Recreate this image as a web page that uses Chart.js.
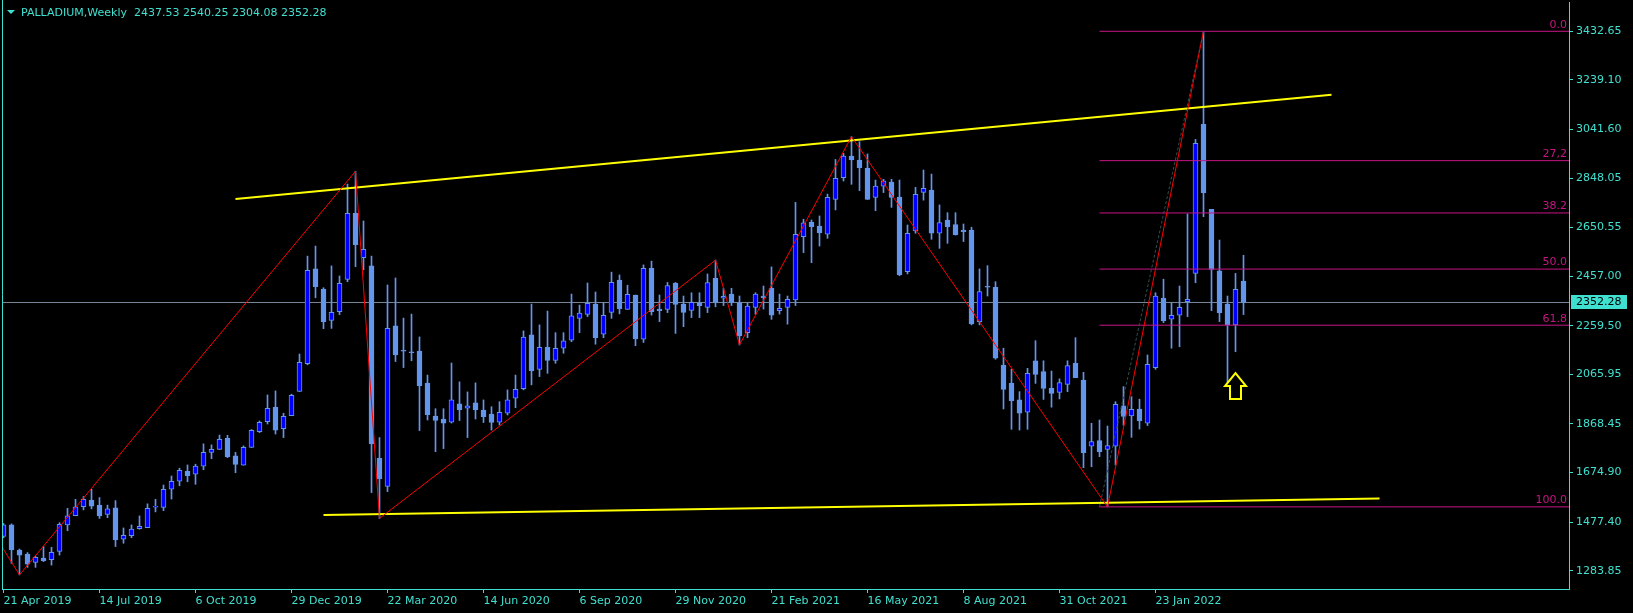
<!DOCTYPE html>
<html>
<head>
<meta charset="utf-8">
<script src="https://cdn.jsdelivr.net/npm/chart.js@4.4.1/dist/chart.umd.min.js"></script>
<style>
html, body { margin: 0; padding: 0; background: #000; }
canvas { display: block; }
</style>
</head>
<body>
<canvas id="chart" width="1633" height="613"></canvas>
<script>
// weekly candles, index 0 = week of 21 Apr 2019
var opens = [
    1420,1466,1366,1350,1317,1334,1328,1360,1466,1503,
    1539,1565,1545,1508,1534,1409,1423,1451,1455,1537,
    1536,1608,1640,1680,1668,1700,1755,1767,1811,1741,
    1704,1775,1838,1877,1935,1850,1901,1998,2108,2486,
    2406,2281,2316,2444,2707,2531,2498,1731,1619,2259,
    2162,2156,2159,2031,1900,1888,1875,1948,1931,1952,
    1924,1908,1875,1911,1971,2009,2223,2086,2174,2121,
    2170,2202,2289,2305,2346,2226,2313,2442,2325,2382,
    2206,2488,2326,2325,2430,2346,2321,2351,2333,2448,
    2369,2386,2351,2232,2333,2378,2410,2320,2333,2362,
    2614,2673,2657,2624,2763,2850,2936,2920,2887,2771,
    2816,2832,2772,2475,2637,2791,2800,2628,2681,2663,
    2641,2641,2276,2415,2413,2103,2030,1964,1915,2120,
    2077,2010,1994,2026,2110,2043,1780,1802,1767,1780,
    1941,1900,1928,1871,2093,2369,2286,2302,2355,2468,
    3062,2723,2478,2346,2263,2437.53
];
var highs = [
    1472,1470,1370,1356,1342,1380,1377,1475,1532,1568,
    1579,1608,1575,1545,1563,1454,1466,1502,1550,1568,
    1625,1661,1692,1705,1708,1789,1785,1824,1823,1755,
    1781,1846,1880,1984,2000,1911,1987,2147,2537,2577,
    2411,2498,2458,2824,2875,2677,2537,1814,2422,2450,
    2290,2306,2215,2063,1929,1929,2111,2036,1996,2032,
    1964,1937,1957,2004,2063,2239,2346,2263,2318,2232,
    2232,2386,2342,2430,2394,2352,2473,2462,2421,2382,
    2502,2517,2382,2432,2432,2378,2391,2391,2466,2521,
    2409,2409,2378,2349,2391,2418,2494,2386,2378,2751,
    2684,2681,2697,2784,2922,2946,3013,2993,2944,2840,
    2843,2843,2840,2661,2811,2880,2864,2741,2710,2710,
    2665,2652,2486,2499,2435,2170,2086,1997,2090,2200,
    2120,2079,2048,2120,2212,2074,1871,1884,1860,1957,
    2017,1977,1967,2143,2391,2445,2349,2418,2705,3002,
    3432.65,2723,2601,2378,2468,2540.25
];
var lows = [
    1415,1313,1267,1297,1297,1320,1306,1346,1443,1503,
    1526,1530,1492,1495,1380,1393,1415,1449,1455,1518,
    1523,1569,1622,1638,1628,1686,1730,1767,1734,1674,
    1704,1775,1834,1868,1828,1814,1901,1998,2104,2371,
    2248,2249,2304,2435,2495,2482,1595,1492,1599,2117,
    2093,2120,1842,1884,1758,1770,1872,1882,1814,1888,
    1874,1844,1864,1904,1933,2004,2024,2057,2070,2110,
    2150,2196,2232,2296,2186,2212,2289,2307,2325,2180,
    2193,2302,2276,2312,2229,2256,2292,2292,2312,2335,
    2340,2340,2183,2212,2306,2326,2285,2306,2266,2340,
    2551,2511,2577,2608,2721,2836,2823,2798,2763,2718,
    2790,2731,2459,2466,2628,2760,2604,2568,2588,2621,
    2595,2263,2263,2378,2126,1928,1847,1844,1847,2030,
    1966,1935,1968,1997,2053,1694,1698,1738,1538,1705,
    1863,1815,1848,1862,2086,2272,2170,2176,2296,2431,
    2694,2320,2276,2017,2156,2304.08
];
var closes = [
    1466,1366,1346,1310,1337,1324,1357,1468,1502,1538,
    1568,1541,1502,1530,1406,1425,1449,1460,1532,1540,
    1608,1640,1684,1662,1700,1755,1767,1807,1738,1707,
    1775,1843,1875,1931,1844,1899,1982,2114,2480,2415,
    2276,2313,2429,2707,2583,2564,1789,1649,2249,2143,
    2158,2152,2021,1905,1882,1871,1964,1925,1941,1925,
    1897,1874,1915,1964,2006,2214,2081,2174,2121,2170,
    2199,2299,2310,2349,2212,2301,2433,2328,2385,2207,
    2488,2316,2320,2420,2345,2313,2353,2340,2432,2353,
    2377,2353,2219,2338,2386,2371,2302,2329,2365,2624,
    2670,2654,2630,2771,2847,2936,2920,2889,2763,2816,
    2837,2771,2462,2628,2783,2807,2628,2671,2654,2621,
    2634,2267,2396,2413,2130,2006,1961,1911,2070,2066,
    2010,1990,2033,2101,2053,1754,1798,1758,1782,1946,
    1898,1927,1880,2106,2378,2280,2301,2333,2365,2986,
    2790,2484,2312,2263,2405,2352.28
];

var dateTicks = [0, 12, 24, 36, 48, 60, 72, 84, 96, 108, 120, 132, 144];
var dateLabels = ['21 Apr 2019', '14 Jul 2019', '6 Oct 2019', '29 Dec 2019', '22 Mar 2020', '14 Jun 2020',
    '6 Sep 2020', '29 Nov 2020', '21 Feb 2021', '16 May 2021', '8 Aug 2021', '31 Oct 2021', '23 Jan 2022'];
var priceTicks = [3432.65, 3239.10, 3041.60, 2848.05, 2650.55, 2457.00, 2259.50, 2065.95, 1868.45, 1674.90, 1477.40, 1283.85];

var zigzagX = [-1, 2, 44, 47, 89, 92, 106, 138, 150];
var zigzagY = [1420, 1267, 2875, 1492, 2521, 2183, 3013, 1538, 3432.65];
var upperTrendX = [29, 166];
var upperTrendY = [2764.5, 3180];
var lowerTrendX = [40, 172];
var lowerTrendY = [1505.6, 1571];

var fibLevels = [0, 27.2, 38.2, 50, 61.8, 100];
var fibLabels = ['0.0', '27,2', '38.2', '50.0', '61.8', '100.0'];
var fibX = [137, 150];
var fibY = [1538, 3432.65];
var arrowMark = [154, 2071];

var symbolName = 'PALLADIUM,Weekly';
var last = opens.length - 1;
var lastPrice = closes[last];

var axisColor = '#40e0d0';
var bullColor = '#0000ff';
var bearColor = '#6495ed';
var fibColor = '#c71585';
var fontFamily = 'DejaVu Sans';

// plot runs from x=2 to x=1569, 8px per week
var xMin = -0.1875;
var xMax = xMin + 1567 / 8;
var yMax = 3549.38;
var yMin = 1210.77;

function pts(xs, ys) {
    return xs.map(function(x, k) { return {x: x, y: ys[k]}; });
}

var bodies = opens.map(function(o, i) { return {x: i, y: [o, closes[i]]}; });
var wicks = lows.map(function(l, i) { return {x: i, y: [l, highs[i]]}; });
var bodyColors = opens.map(function(o, i) { return closes[i] > o ? bullColor : bearColor; });

var datasets = [
    {type: 'line', data: pts(zigzagX, zigzagY), borderColor: '#ff0000', borderWidth: 1, pointRadius: 0, order: 0},
    {type: 'line', data: pts(upperTrendX, upperTrendY), borderColor: '#ffff00', borderWidth: 2, pointRadius: 0, order: 0},
    {type: 'line', data: pts(lowerTrendX, lowerTrendY), borderColor: '#ffff00', borderWidth: 2, pointRadius: 0, order: 0},
    {type: 'line', data: pts(fibX, fibY), borderColor: '#2f4f4f', borderWidth: 1, borderDash: [3, 2], pointRadius: 0, order: 0}
];
fibLevels.forEach(function(lv) {
    var p = fibY[1] - (fibY[1] - fibY[0]) * lv / 100;
    datasets.push({type: 'line', data: [{x: fibX[0], y: p}, {x: xMax, y: p}], borderColor: fibColor,
        borderWidth: 1, pointRadius: 0, order: 0});
});
datasets.push({type: 'bar', data: bodies, backgroundColor: bodyColors, borderColor: bearColor, borderWidth: 1,
    borderSkipped: false, grouped: false, maxBarThickness: 5, barPercentage: 1, categoryPercentage: 1,
    minBarLength: 1, order: 1});
datasets.push({type: 'bar', data: wicks, backgroundColor: bearColor, borderWidth: 0, grouped: false,
    maxBarThickness: 1, barPercentage: 1, categoryPercentage: 1, order: 2});
datasets.push({type: 'line', data: [{x: xMin, y: lastPrice}, {x: xMax, y: lastPrice}], borderColor: '#778899',
    borderWidth: 1, pointRadius: 0, order: 3});

var overlay = {
    id: 'overlay',
    afterDraw: function(chart) {
        var ctx = chart.ctx, xs = chart.scales.x, ys = chart.scales.y, area = chart.chartArea;
        ctx.save();
        ctx.font = '11px "' + fontFamily + '"';

        // left frame line
        ctx.strokeStyle = axisColor;
        ctx.lineWidth = 1;
        ctx.beginPath();
        ctx.moveTo(area.left + 0.5, 0);
        ctx.lineTo(area.left + 0.5, area.bottom);
        ctx.stroke();

        // header
        ctx.fillStyle = axisColor;
        ctx.beginPath();
        ctx.moveTo(7, 10); ctx.lineTo(15, 10); ctx.lineTo(11, 14);
        ctx.closePath();
        ctx.fill();
        ctx.textBaseline = 'middle';
        ctx.textAlign = 'left';
        var hdr = symbolName + '  ' + [opens[last], highs[last], lows[last], closes[last]]
            .map(function(v) { return v.toFixed(2); }).join(' ');
        ctx.fillText(hdr, 21, 13.5);

        // fibo level captions
        ctx.fillStyle = fibColor;
        ctx.textAlign = 'right';
        ctx.textBaseline = 'bottom';
        fibLevels.forEach(function(lv, k) {
            var p = fibY[1] - (fibY[1] - fibY[0]) * lv / 100;
            ctx.fillText(fibLabels[k], area.right - 2, ys.getPixelForValue(p) - 1);
        });

        // up arrow
        var cx = xs.getPixelForValue(arrowMark[0]);
        var ty = ys.getPixelForValue(arrowMark[1]);
        ctx.beginPath();
        ctx.moveTo(cx, ty);
        ctx.lineTo(cx + 10.5, ty + 13);
        ctx.lineTo(cx + 5.5, ty + 13);
        ctx.lineTo(cx + 5.5, ty + 26);
        ctx.lineTo(cx - 5.5, ty + 26);
        ctx.lineTo(cx - 5.5, ty + 13);
        ctx.lineTo(cx - 10.5, ty + 13);
        ctx.closePath();
        ctx.fillStyle = '#000';
        ctx.fill();
        ctx.strokeStyle = '#ffff00';
        ctx.lineWidth = 2;
        ctx.stroke();

        // current price tag
        var py = Math.round(ys.getPixelForValue(lastPrice));
        ctx.fillStyle = axisColor;
        ctx.fillRect(area.right + 2, py - 7, 56, 14);
        ctx.fillStyle = '#000';
        ctx.textAlign = 'left';
        ctx.textBaseline = 'middle';
        ctx.fillText(lastPrice.toFixed(2), area.right + 7, py + 0.5);
        ctx.restore();
    }
};

new Chart(document.getElementById('chart').getContext('2d'), {
    type: 'bar',
    data: {datasets: datasets},
    plugins: [overlay],
    options: {
        responsive: false,
        animation: false,
        events: [],
        layout: {padding: {left: 2, top: 2, right: 0, bottom: 0}},
        plugins: {legend: {display: false}, tooltip: {enabled: false}},
        scales: {
            x: {
                type: 'linear',
                min: xMin,
                max: xMax,
                bounds: 'data',
                offset: false,
                grid: {drawOnChartArea: false, drawTicks: true, tickLength: 4, color: axisColor, offset: false},
                border: {display: true, color: axisColor},
                ticks: {
                    autoSkip: false, maxRotation: 0, minRotation: 0, align: 'start', padding: 2,
                    color: axisColor, font: {family: fontFamily, size: 11},
                    callback: function(v) {
                        var k = dateTicks.indexOf(v);
                        return k >= 0 ? dateLabels[k] : '';
                    }
                },
                afterBuildTicks: function(axis) {
                    axis.ticks = dateTicks.map(function(v) { return {value: v}; });
                },
                afterFit: function(s) { s.height = 24; s.paddingLeft = 0; s.paddingRight = 0; }
            },
            y: {
                type: 'linear',
                position: 'right',
                min: yMin,
                max: yMax,
                bounds: 'data',
                grid: {drawOnChartArea: false, drawTicks: true, tickLength: 4, color: axisColor},
                border: {display: true, color: axisColor},
                ticks: {
                    padding: 3, color: axisColor, font: {family: fontFamily, size: 11},
                    callback: function(v) { return v.toFixed(2); }
                },
                afterBuildTicks: function(axis) {
                    axis.ticks = priceTicks.map(function(v) { return {value: v}; });
                },
                afterFit: function(s) { s.width = 64; s.paddingTop = 0; s.paddingBottom = 0; }
            }
        }
    }
});
</script>
</body>
</html>
